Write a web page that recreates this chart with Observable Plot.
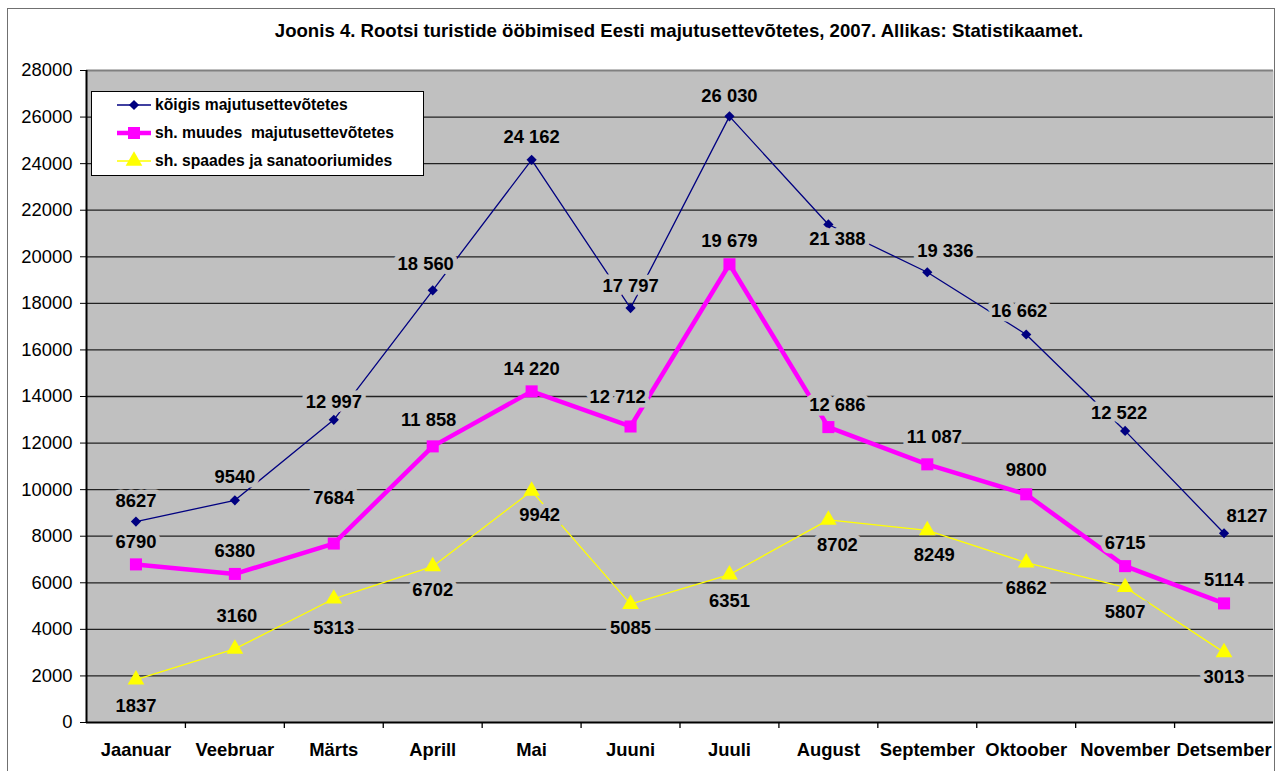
<!DOCTYPE html>
<html>
<head>
<meta charset="utf-8">
<script src="https://cdn.jsdelivr.net/npm/d3@7"></script>
<script src="https://cdn.jsdelivr.net/npm/@observablehq/plot@0.6"></script>
<style>
  html, body { margin: 0; padding: 0; background: #fff; }
  #wrap { position: relative; width: 1284px; height: 771px; overflow: hidden; background: #fff;
          font-family: "Liberation Sans", Arial, sans-serif; }
  #title { height: 62px; line-height: 62px; text-align: center; font-weight: bold; font-size: 18.6px;
           color: #000; padding-left: 74px; box-sizing: border-box; width: 1284px; white-space: nowrap; }
  #chart svg { display: block; }
  #border { position: absolute; left: 7px; top: 8px; width: 1266px; height: 800px;
            border: 1.5px solid #707070; pointer-events: none; }
  #legend { position: absolute; left: 91px; top: 91px; width: 331px; height: 83px;
            background: #fff; border: 1.5px solid #000; }
  .row { position: absolute; left: 0; height: 20px; display: flex; align-items: center; }
  .row svg { margin-left: 25px; }
  .row span { margin-left: 4px; font-weight: bold; font-size: 15.7px; white-space: pre; color: #000; }
</style>
</head>
<body>
<div id="wrap">
  <div id="title"></div>
  <div id="chart"></div>
  <div id="legend"></div>
  <div id="border"></div>
</div>
<script>
// ---- data ----
const months = ["Jaanuar","Veebruar","Märts","Aprill","Mai","Juuni","Juuli","August","September","Oktoober","November","Detsember"];
const koigis = [8627, 9540, 12997, 18560, 24162, 17797, 26030, 21388, 19336, 16662, 12522, 8127];
const muudes = [6790, 6380, 7684, 11858, 14220, 12712, 19679, 12686, 11087, 9800, 6715, 5114];
const spaad  = [1837, 3160, 5313, 6702, 9942, 5085, 6351, 8702, 8249, 6862, 5807, 3013];
const seriesNames = ["kõigis majutusettevõtetes", "sh. muudes  majutusettevõtetes", "sh. spaades ja sanatooriumides"];
const yTicks = d3.range(0, 28001, 2000);
const titleText = "Joonis 4. Rootsi turistide ööbimised Eesti majutusettevõtetes, 2007. Allikas: Statistikaamet.";

// ---- label placement (manual nudges, px, as in the original) ----
const labelNudge = [
  { dx: [0,0,0,-7,0,0,0,9,18,-7,-6,23], dy: [-21,-23,-18,-26,-23,-22,-20,15,-21,-23,-18,-17] },
  { dx: [0,0,0,-4,0,-13,0,9,7,0,0,0],   dy: [-22,-23,-45,-26,-22,-29,-23,-22,-27,-24,-23,-23] },
  { dx: [0,2,0,0,8,0,0,9,7,0,0,0],      dy: [26,-33,29,24,24,24,26,25,25,25,25,25] }
];

const styles = [
  { stroke: "#000080", width: 1.3, symbol: "diamond2", r: 4.6 },
  { stroke: "#FF00FF", width: 4.5, symbol: "square", r: 6.8 },
  { stroke: "#FFFF00", width: 1.3, symbol: "triangle", r: 6.2 }
];

const seriesValues = [koigis, muudes, spaad];
const series = seriesValues.map((vals, s) => months.map((m, i) => ({ month: m, value: vals[i], s, i })));

const fmt = v => v >= 10000 ? d3.format(",")(v).replace(/,/g, " ") : String(v);

document.getElementById("title").textContent = titleText;

const W = 1284, H = 709, ML = 86, MR = 11, MT = 8, MB = 49;
const bw = (W - ML - MR) / months.length;
const FONT = "Liberation Sans, Arial, sans-serif";
const FS = 18.4;

const marks = [
  Plot.frame({ fill: "#C0C0C0", stroke: null }),
  Plot.ruleY(yTicks.filter(t => t > 0 && t < 28000), { stroke: "#222", strokeWidth: 1.3 }),
  Plot.ruleY([28000], { stroke: "#808080", strokeWidth: 2 }),
  Plot.ruleX([months[0]], { dx: -bw / 2, stroke: "#000", strokeWidth: 2 }),
  Plot.ruleY([0], { stroke: "#000", strokeWidth: 2.2 }),
  Plot.ruleX(months.slice(1), { dx: -bw / 2, y1: 0, y2: 0, insetBottom: -6, stroke: "#000", strokeWidth: 1.3 }),
  Plot.axisY({ ticks: yTicks, tickSize: 6, tickPadding: 8, tickFormat: d => String(d), fontSize: FS, label: null }),
  Plot.axisX({ tickSize: 0, tickPadding: 20, fontSize: FS, fontWeight: "bold", label: null })
];

series.forEach((data, s) => {
  const st = styles[s];
  marks.push(Plot.line(data, { x: "month", y: "value", stroke: st.stroke, strokeWidth: st.width, strokeLinejoin: "miter" }));
  marks.push(Plot.dot(data, { x: "month", y: "value", symbol: st.symbol, r: st.r, fill: st.stroke, stroke: null }));
});

series.forEach((data, s) => {
  data.forEach((d, i) => {
    marks.push(Plot.text([d], {
      x: "month", y: "value", text: d => fmt(d.value),
      dx: labelNudge[s].dx[i], dy: labelNudge[s].dy[i],
      fontSize: FS, fontWeight: "bold", fill: "#000",
      stroke: "#C0C0C0", strokeWidth: 9, strokeLinejoin: "round"
    }));
  });
});

const chart = Plot.plot({
  width: W, height: H,
  marginLeft: ML, marginRight: MR, marginTop: MT, marginBottom: MB,
  style: { fontFamily: FONT, background: "#fff", color: "#000", overflow: "visible" },
  x: { type: "band", domain: months, padding: 0, round: false, axis: null },
  y: { domain: [0, 28000], axis: null },
  marks
});
document.getElementById("chart").appendChild(chart);

// ---- legend ----
const legend = document.getElementById("legend");
const rowTops = [3, 31, 59];
seriesNames.forEach((name, s) => {
  const st = styles[s];
  const row = document.createElement("div");
  row.className = "row";
  row.style.top = rowTops[s] + "px";
  const svg = d3.create("svg").attr("width", 34).attr("height", 20);
  svg.append("line").attr("x1", 0).attr("x2", 34).attr("y1", 10).attr("y2", 10)
     .attr("stroke", st.stroke).attr("stroke-width", st.width);
  const sym = { diamond2: d3.symbolDiamond2 || d3.symbolDiamond, square: d3.symbolSquare, triangle: d3.symbolTriangle }[st.symbol];
  svg.append("path").attr("transform", "translate(17,10)")
     .attr("d", d3.symbol(sym, Math.PI * st.r * st.r)()).attr("fill", st.stroke);
  row.appendChild(svg.node());
  const span = document.createElement("span");
  span.textContent = name;
  row.appendChild(span);
  legend.appendChild(row);
});
</script>
</body>
</html>
